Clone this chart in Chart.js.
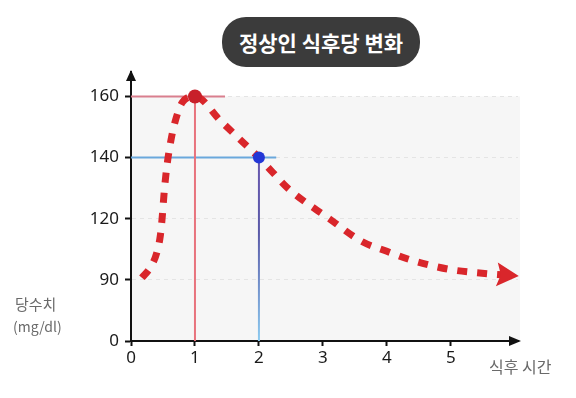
<!DOCTYPE html>
<html>
<head>
<meta charset="utf-8">
<script src="https://cdn.jsdelivr.net/npm/chart.js@4"></script>
<style>
  body { margin: 0; background: #fff; }
  #wrap { position: relative; width: 576px; height: 398px; font-family: "Noto Sans CJK KR", "Noto Sans", sans-serif; }
  #title { position: absolute; left: 222px; top: 17px; width: 198px; height: 50px; border-radius: 24px;
    background: #3b3b3b; color: #fff; font-size: 21px; font-weight: bold; text-align: center; line-height: 50px; }
  .lab { position: absolute; color: #6a6a6a; font-size: 15px; }
</style>
</head>
<body>
<div id="wrap">
  <canvas id="glucoseChart" width="576" height="398"></canvas>
  <div id="title">정상인 식후당 변화</div>
  <div class="lab" style="left:15px;top:293px;">당수치</div>
  <div class="lab" style="left:13px;top:316px;font-size:14px;">(mg/dl)</div>
  <div class="lab" style="left:489px;top:354px;font-size:16px;">식후 시간</div>
</div>
<script>
// tick values of the (uneven) glucose axis
const yTicks = [0, 90, 120, 140, 160];
const yLabels = ['0', '90', '120', '140', '160'];

// curve: hours after meal / mg/dl
const hours = [0.17, 0.3, 0.4, 0.46, 0.49, 0.52, 0.56, 0.61, 0.68, 0.8, 1.0, 1.4, 1.7, 2.0, 2.2, 2.45, 3.1, 3.6, 4.0, 4.35, 4.7, 5.0, 5.4, 6.0];
const glucose = [91, 96, 103, 112, 121, 129, 137, 144, 151, 158, 160, 152, 146, 140, 135.5, 130, 120, 109, 104, 100, 97, 95, 93.5, 92];

// marked points and their guide lines
const markHours = [1, 2];
const markValues = [160, 140];
const guideEnd = [1.47, 2.27];

// evenly spaced axis: map mg/dl to tick index
function toAxis(v) {
    for (let i = 1; i < yTicks.length; i++) {
        if (v <= yTicks[i]) {
            return (i - 1) + (v - yTicks[i - 1]) / (yTicks[i] - yTicks[i - 1]);
        }
    }
    return yTicks.length - 1;
}

const curve = hours.map((h, i) => ({ x: h, y: toAxis(glucose[i]) }));

const bgPlugin = {
    id: 'bg',
    beforeDraw(chart) {
        const { ctx, scales: { x, y } } = chart;
        ctx.save();
        ctx.fillStyle = '#f6f6f6';
        ctx.fillRect(x.left, y.getPixelForValue(4), x.right - x.left + 2, y.bottom - y.getPixelForValue(4));
        ctx.restore();
    }
};

const arrowPlugin = {
    id: 'arrows',
    afterDraw(chart) {
        const { ctx, scales: { x, y } } = chart;
        ctx.save();
        ctx.fillStyle = '#111';
        // y axis arrow
        ctx.beginPath();
        ctx.moveTo(x.left, y.top - 2);
        ctx.lineTo(x.left - 5, y.top + 9);
        ctx.lineTo(x.left + 5, y.top + 9);
        ctx.fill();
        // x axis arrow
        ctx.beginPath();
        ctx.moveTo(x.right + 3, y.bottom);
        ctx.lineTo(x.right - 9, y.bottom - 5);
        ctx.lineTo(x.right - 9, y.bottom + 5);
        ctx.fill();
        // curve arrowhead
        const pts = chart.getDatasetMeta(2).data;
        const a = pts[pts.length - 2], b = pts[pts.length - 1];
        const ang = Math.atan2(b.y - a.y, b.x - a.x);
        ctx.translate(b.x, b.y);
        ctx.rotate(ang);
        ctx.fillStyle = '#d9262b';
        ctx.beginPath();
        ctx.moveTo(4, 0);
        ctx.lineTo(-18, -12);
        ctx.lineTo(-14, 0);
        ctx.lineTo(-18, 12);
        ctx.fill();
        ctx.restore();
    }
};

const ctx = document.getElementById('glucoseChart').getContext('2d');

new Chart(ctx, {
    type: 'line',
    data: {
        datasets: [
            {
                data: [{ x: markHours[0], y: toAxis(markValues[0]) }],
                showLine: false, pointRadius: 7, pointBackgroundColor: '#c8202a', pointBorderWidth: 0
            },
            {
                data: [{ x: markHours[1], y: toAxis(markValues[1]) }],
                showLine: false, pointRadius: 6, pointBackgroundColor: '#2437d6', pointBorderWidth: 0
            },
            {
                data: curve,
                borderColor: '#d9262b', borderWidth: 7, borderDash: [10, 10], borderCapStyle: 'butt',
                cubicInterpolationMode: 'monotone', pointRadius: 0, fill: false
            },
            {
                data: [{ x: 0, y: toAxis(markValues[0]) }, { x: guideEnd[0], y: toAxis(markValues[0]) }],
                borderColor: '#d97f8e', borderWidth: 2, pointRadius: 0
            },
            {
                data: [{ x: markHours[0], y: toAxis(markValues[0]) }, { x: markHours[0], y: 0 }],
                borderColor: '#e8737d', borderWidth: 2, pointRadius: 0
            },
            {
                data: [{ x: 0, y: toAxis(markValues[1]) }, { x: guideEnd[1], y: toAxis(markValues[1]) }],
                borderColor: '#6aa8dc', borderWidth: 2, pointRadius: 0
            },
            {
                data: [{ x: markHours[1], y: toAxis(markValues[1]) }, { x: markHours[1], y: 0 }],
                borderWidth: 2, pointRadius: 0,
                borderColor: function (c) {
                    const area = c.chart.chartArea;
                    if (!area) return '#6c63b8';
                    const g = c.chart.ctx.createLinearGradient(0, area.top, 0, area.bottom);
                    g.addColorStop(0, '#7a55b8');
                    g.addColorStop(0.6, '#5a5aa8');
                    g.addColorStop(1, '#8ccbf0');
                    return g;
                }
            }
        ]
    },
    options: {
        responsive: false,
        animation: false,
        layout: { padding: { left: 0, top: 72, right: 58, bottom: 0 } },
        plugins: { legend: { display: false }, tooltip: { enabled: false } },
        scales: {
            x: {
                type: 'linear',
                min: 0,
                max: 6.05,
                afterFit: function (s) { s.height = 57; },
                afterBuildTicks: function (s) { s.ticks = [0, 1, 2, 3, 4, 5].map(v => ({ value: v })); },
                ticks: { color: '#1a1a1a', font: { size: 17, family: 'Noto Sans' }, padding: 2 },
                grid: { drawOnChartArea: false, color: 'rgba(0,0,0,0)', tickColor: '#111', tickLength: 5, tickWidth: 2 },
                border: { color: '#111', width: 2 }
            },
            y: {
                type: 'linear',
                min: 0,
                max: 4.4,
                afterFit: function (s) { s.width = 131; },
                afterBuildTicks: function (s) { s.ticks = yTicks.map((v, i) => ({ value: i })); },
                ticks: {
                    color: '#1a1a1a', font: { size: 17, family: 'Noto Sans' }, padding: 6,
                    callback: function (v) { return yLabels[v]; }
                },
                grid: { color: '#e4e4e4', lineWidth: 1, tickColor: '#111', tickLength: 6, tickWidth: 2, tickBorderDash: [] },
                border: { color: '#111', width: 2, dash: [4, 4] }
            }
        }
    },
    plugins: [bgPlugin, arrowPlugin]
});
</script>
</body>
</html>
